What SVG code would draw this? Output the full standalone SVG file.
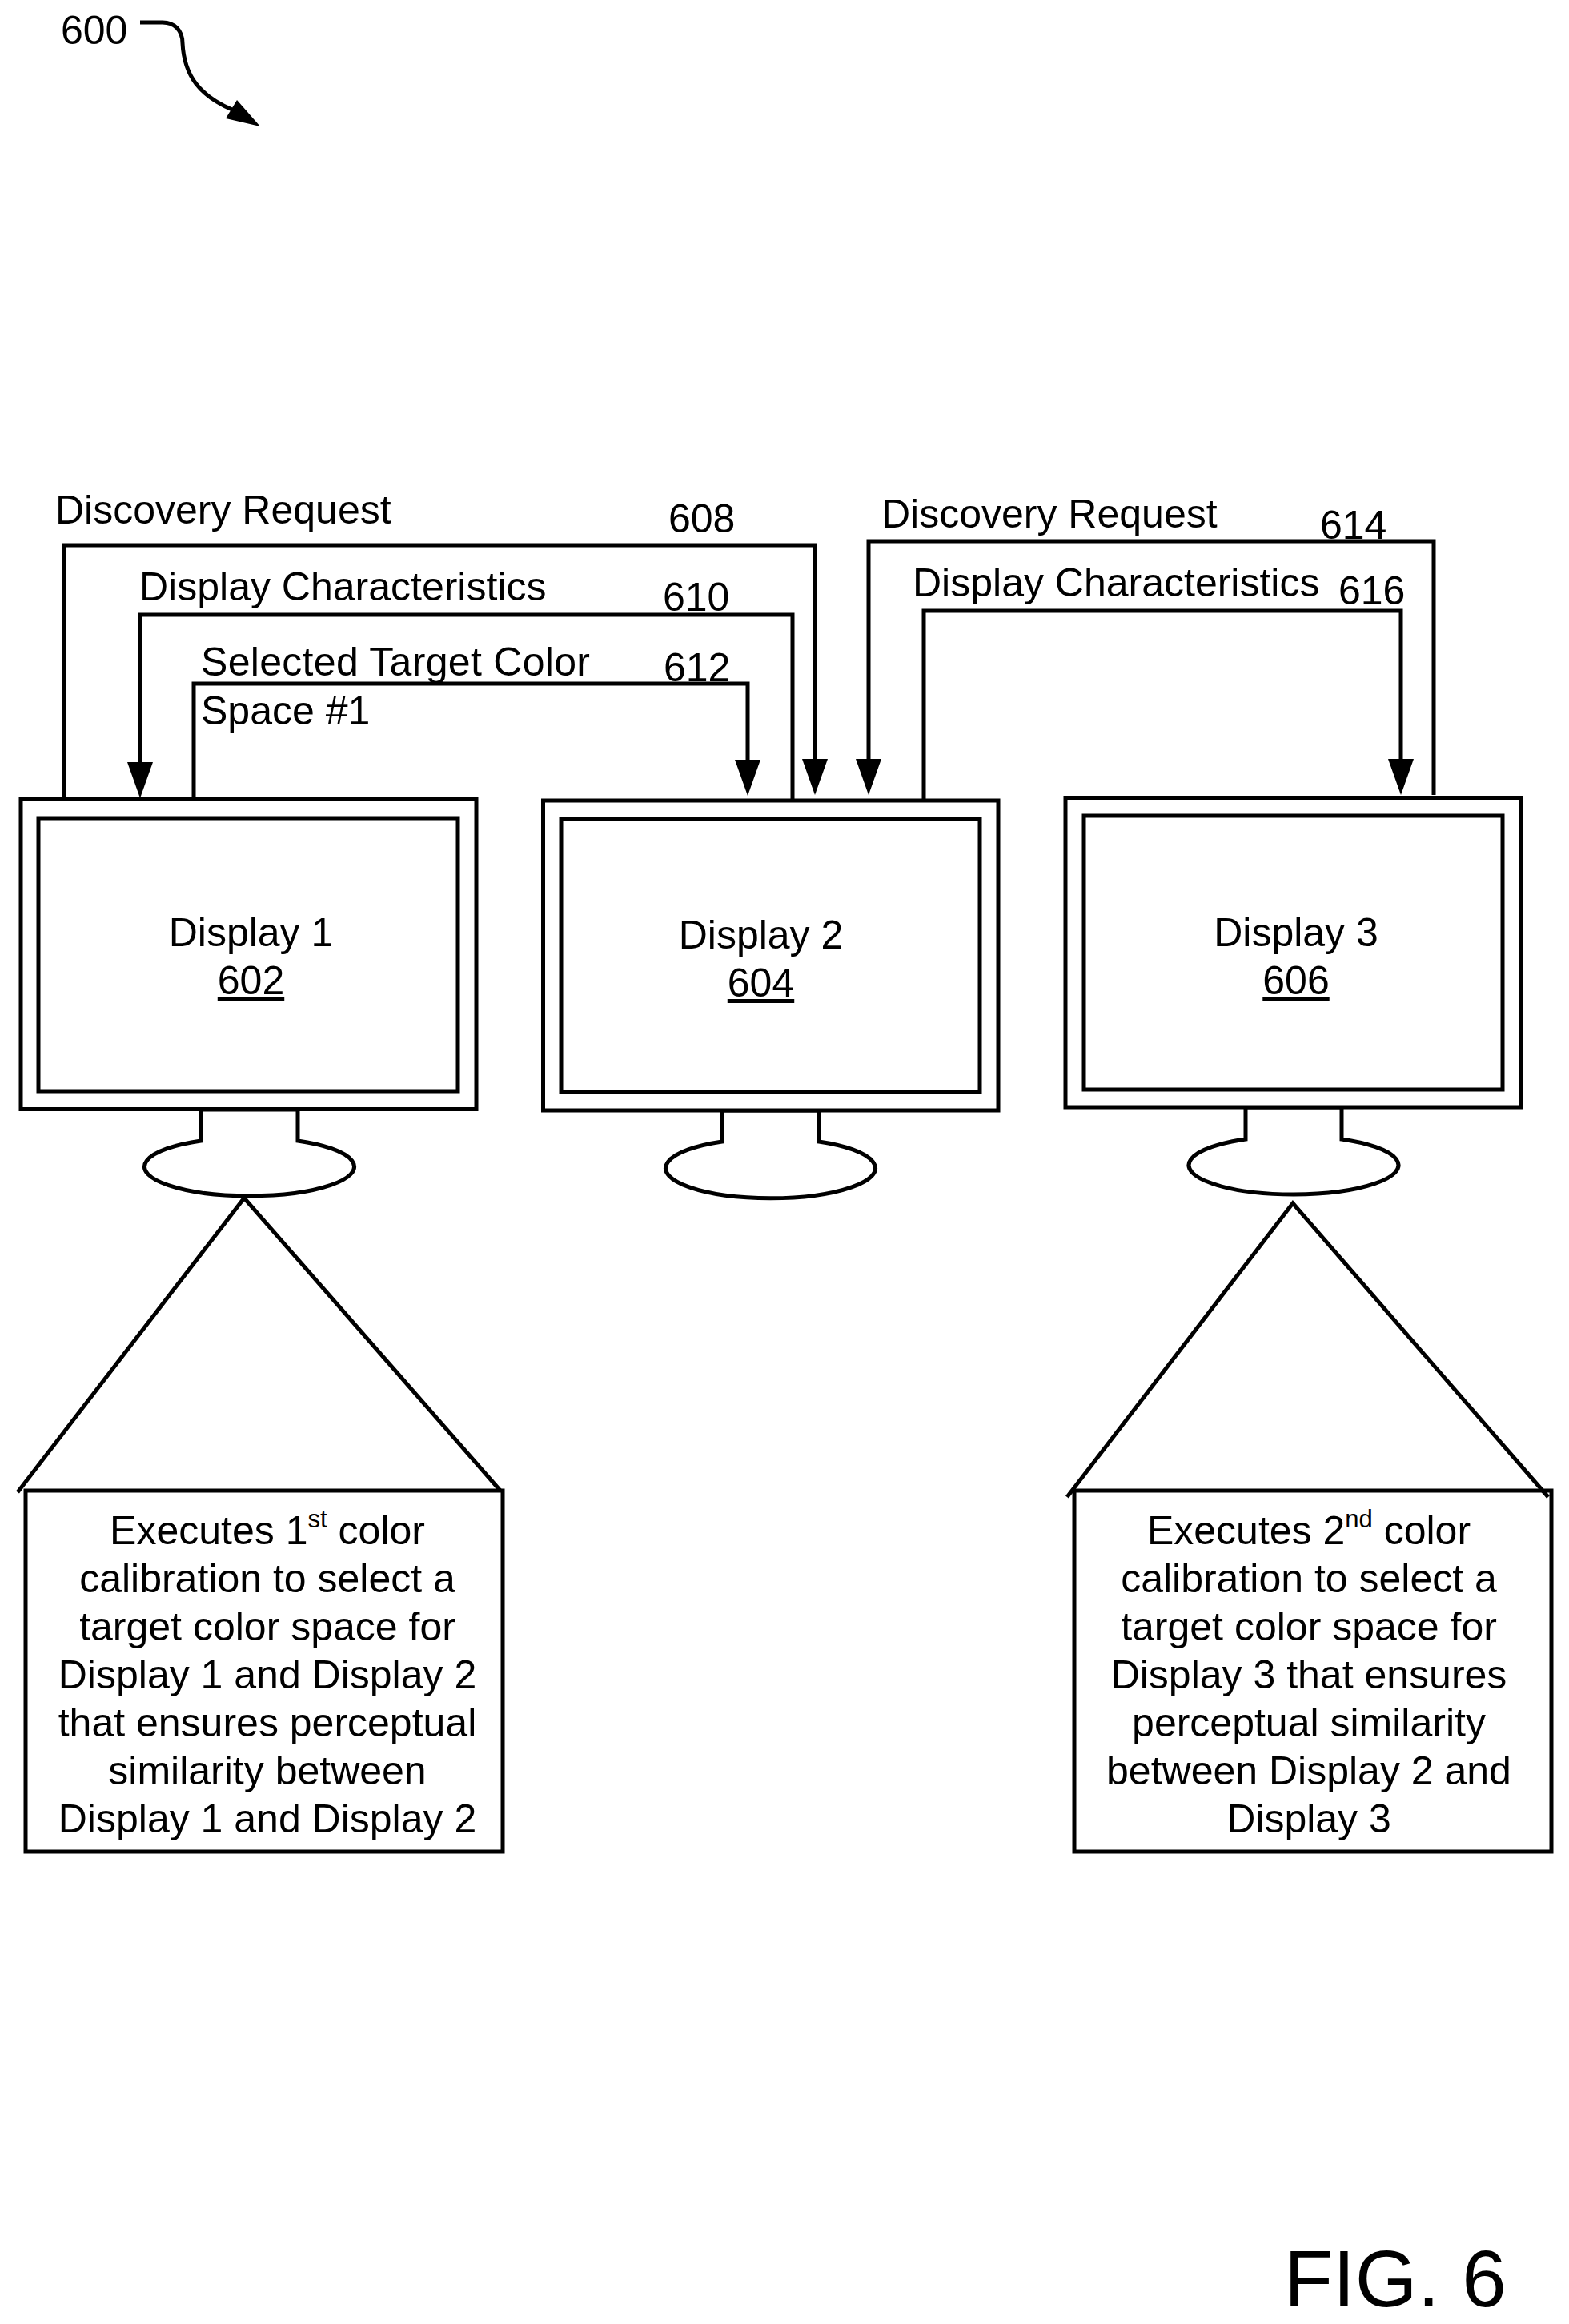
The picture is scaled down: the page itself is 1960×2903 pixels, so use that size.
<svg xmlns="http://www.w3.org/2000/svg" width="1960" height="2903" viewBox="0 0 1960 2903">
<style>
text{font-family:"Liberation Sans",Arial,sans-serif;font-size:50px;fill:#000}
.m{text-anchor:middle}
.u{text-decoration:underline}
.s{fill:#fff;stroke:#000;stroke-width:5}
.n{fill:none;stroke:#000;stroke-width:5}
.c{fill:none;stroke:#000;stroke-width:5;marker-end:url(#a)}
.fig{font-size:100px}
</style>
<defs>
<marker id="a" markerUnits="userSpaceOnUse" markerWidth="46" markerHeight="32" refX="5" refY="16" orient="auto"><path d="M0 0L45 16L0 32z" fill="#000"/></marker>
</defs>
<rect width="1960" height="2903" fill="#fff"/>
<g id="label-600">
<text x="76" y="55">600</text>
<path class="n" d="M175 28H203C218 28 228 38 228 54C230 95 250 120 290 137"/>
<path d="M296 125L325 158L282 148z" fill="#000"/>
</g>
<g id="connectors">
<path class="c" d="M80 1001V681H1018V953"/>
<path class="c" d="M990 1001V768H175V957"/>
<path class="c" d="M242 999V854H934V954"/>
<path class="c" d="M1791 993V676H1085V953"/>
<path class="c" d="M1154 998V763H1750V953"/>
</g>
<g id="connector-labels">
<text x="69" y="654">Discovery Request</text>
<text x="835" y="665">608</text>
<text x="174" y="750">Display Characteristics</text>
<text x="828" y="763">610</text>
<text x="251" y="844" textLength="486">Selected Target Color</text>
<text x="829" y="851">612</text>
<text x="251" y="905">Space #1</text>
<text x="1101" y="659">Discovery Request</text>
<text x="1649" y="673">614</text>
<text x="1140" y="745">Display Characteristics</text>
<text x="1672" y="755">616</text>
</g>
<g id="display-1">
<path class="s" d="M251 1386V1425A131 36.500 0 1 0 372 1425V1386z"/>
<rect class="s" x="26" y="998.500" width="569" height="387"/>
<rect class="s" x="48" y="1022" width="524" height="341"/>
<text class="m" x="313.500" y="1182">Display 1</text>
<text class="m u" x="313.500" y="1242">602</text>
</g>
<g id="display-2">
<path class="s" d="M902 1387V1426A131 37.500 0 1 0 1023 1426V1387z"/>
<rect class="s" x="678.500" y="1000" width="568.500" height="387"/>
<rect class="s" x="701" y="1022.500" width="523" height="342"/>
<text class="m" x="950.500" y="1185">Display 2</text>
<text class="m u" x="950.500" y="1245">604</text>
</g>
<g id="display-3">
<path class="s" d="M1556 1383V1423A131 36.500 0 1 0 1676 1423V1383z"/>
<rect class="s" x="1331" y="996.500" width="569" height="386.500"/>
<rect class="s" x="1354" y="1019" width="523" height="342"/>
<text class="m" x="1619" y="1182">Display 3</text>
<text class="m u" x="1619" y="1242">606</text>
</g>
<g id="callout-1">
<rect class="s" x="32" y="1862" width="596" height="451"/>
<path class="n" d="M22 1864L305 1496.500L625 1862"/>
<text class="m" x="334" y="1929">Executes 1<tspan dy="-21" font-size="31">st</tspan><tspan dy="21"> color</tspan></text>
<text class="m" x="334" y="1989">calibration to select a</text>
<text class="m" x="334" y="2049">target color space for</text>
<text class="m" x="334" y="2109">Display 1 and Display 2</text>
<text class="m" x="334" y="2169">that ensures perceptual</text>
<text class="m" x="334" y="2229">similarity between</text>
<text class="m" x="334" y="2289">Display 1 and Display 2</text>
</g>
<g id="callout-2">
<rect class="s" x="1342" y="1862" width="596" height="451"/>
<path class="n" d="M1333 1870L1615 1503L1934 1870"/>
<text class="m" x="1635" y="1929">Executes 2<tspan dy="-21" font-size="31">nd</tspan><tspan dy="21"> color</tspan></text>
<text class="m" x="1635" y="1989">calibration to select a</text>
<text class="m" x="1635" y="2049">target color space for</text>
<text class="m" x="1635" y="2109">Display 3 that ensures</text>
<text class="m" x="1635" y="2169">perceptual similarity</text>
<text class="m" x="1635" y="2229">between Display 2 and</text>
<text class="m" x="1635" y="2289">Display 3</text>
</g>
<text class="fig" x="1604" y="2881">FIG. 6</text>
</svg>
